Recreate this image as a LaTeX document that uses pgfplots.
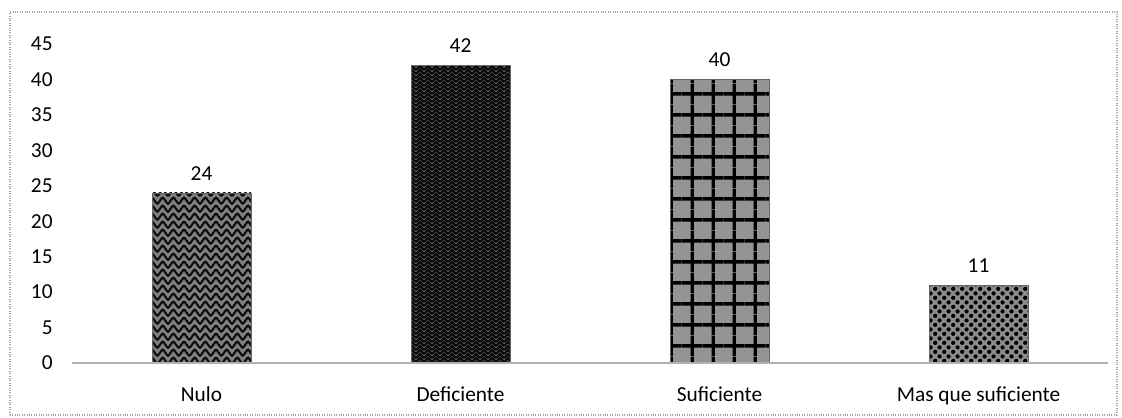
\documentclass[border=0pt]{standalone}
\usepackage{pgfplots}
\pgfplotsset{compat=1.18}
\usepackage{fontspec}
\setmainfont{Carlito}
\usetikzlibrary{patterns}
\pgfdeclarepatternformonly{mywaves}{\pgfqpoint{-1pt}{-2pt}}{\pgfqpoint{9pt}{7pt}}{\pgfqpoint{8pt}{6pt}}{
  \pgfsetlinewidth{1.6pt}
  \pgfpathmoveto{\pgfqpoint{0pt}{1pt}}
  \pgfpathcurveto{\pgfqpoint{2pt}{4pt}}{\pgfqpoint{2pt}{4pt}}{\pgfqpoint{4pt}{1pt}}
  \pgfpathcurveto{\pgfqpoint{6pt}{-2pt}}{\pgfqpoint{6pt}{-2pt}}{\pgfqpoint{8pt}{1pt}}
  \pgfusepath{stroke}}
\pgfdeclarepatternformonly{myweave}{\pgfqpoint{-1pt}{-1pt}}{\pgfqpoint{7pt}{7pt}}{\pgfqpoint{6pt}{6pt}}{
  \pgfsetlinewidth{1.6pt}
  \pgfpathmoveto{\pgfqpoint{0pt}{0pt}}\pgfpathlineto{\pgfqpoint{3pt}{3pt}}
  \pgfpathlineto{\pgfqpoint{6pt}{0pt}}
  \pgfpathmoveto{\pgfqpoint{0pt}{3pt}}\pgfpathlineto{\pgfqpoint{3pt}{6pt}}
  \pgfpathlineto{\pgfqpoint{6pt}{3pt}}
  \pgfusepath{stroke}}
\pgfdeclarepatternformonly{mygrid}{\pgfqpoint{0pt}{0pt}}{\pgfqpoint{15.5pt}{15.5pt}}{\pgfqpoint{15.5pt}{15.5pt}}{
  \pgfsetlinewidth{2.6pt}
  \pgfpathmoveto{\pgfqpoint{0pt}{7.75pt}}\pgfpathlineto{\pgfqpoint{15.5pt}{7.75pt}}
  \pgfpathmoveto{\pgfqpoint{7.75pt}{0pt}}\pgfpathlineto{\pgfqpoint{7.75pt}{15.5pt}}
  \pgfusepath{stroke}}
\pgfdeclarepatternformonly{mydots}{\pgfqpoint{0pt}{0pt}}{\pgfqpoint{7pt}{7pt}}{\pgfqpoint{7pt}{7pt}}{
  \pgfpathcircle{\pgfqpoint{1.75pt}{1.75pt}}{1.7pt}
  \pgfpathcircle{\pgfqpoint{5.25pt}{5.25pt}}{1.7pt}
  \pgfusepath{fill}}
\begin{document}
\begin{tikzpicture}[x=0.75pt,y=0.75pt]
\useasboundingbox (0,0) rectangle (1122,418);
\draw[gray!70, line width=0.8pt, densely dotted] (10,3) rectangle (1117,406);
\begin{axis}[
  at={(54pt,41.25pt)}, anchor=south west,
  scale only axis, width=777pt, height=239.25pt,
  xmin=-0.5, xmax=3.5, ymin=0, ymax=45,
  axis line style={draw=none},
  ytick={0,5,...,45},
  xtick={0,1,2,3},
  xticklabels={Nulo,Deficiente,Suficiente,Mas que suficiente},
  major tick length=0pt,
  tick label style={font=\fontsize{16}{18}\selectfont},
  /pgf/number format/assume math mode=true,
  yticklabel style={xshift=-11pt},
  xticklabel style={yshift=-14pt},
  ybar, bar width=74pt, bar shift=0pt,
  nodes near coords,
  every node near coord/.append style={font=\fontsize{16}{18}\selectfont, yshift=6pt},
  clip=false,
]
\addplot[draw=black!60, fill=black!50, postaction={pattern=mywaves, pattern color=black!95}] coordinates {(0,24)};
\addplot[draw=black!60, fill=black!55, postaction={pattern=myweave, pattern color=black!95}] coordinates {(1,42)};
\addplot[draw=black!60, fill=black!42, postaction={pattern=mygrid, pattern color=black}] coordinates {(2,40)};
\addplot[draw=black!60, fill=black!45, postaction={pattern=mydots, pattern color=black}] coordinates {(3,11)};
\draw[gray!60, line width=2pt] (axis cs:-0.5,0) -- (axis cs:3.5,0);
\end{axis}
\end{tikzpicture}
\end{document}
